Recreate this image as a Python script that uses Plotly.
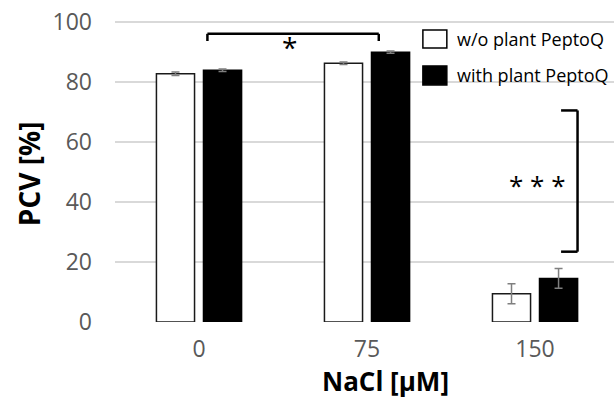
import plotly.graph_objects as go

categories = ["0", "75", "150"]
x_pos = [0, 1, 2]
without_vals = [82.6, 86.1, 9.4]
without_err = [0.6, 0.4, 3.3]
with_vals = [83.8, 89.8, 14.5]
with_err = [0.4, 0.4, 3.3]
y_ticks = [0, 20, 40, 60, 80, 100]

FONT = "Open Sans"

fig = go.Figure()
fig.add_trace(go.Bar(
    x=x_pos, y=without_vals, name="w/o plant PeptoQ",
    marker=dict(color="white", line=dict(color="#1a1a1a", width=1.5)),
    error_y=dict(type="data", array=without_err, color="#7f7f7f", thickness=1.5, width=4),
))
fig.add_trace(go.Bar(
    x=x_pos, y=with_vals, name="with plant PeptoQ",
    marker=dict(color="black", line=dict(color="black", width=1.5)),
    error_y=dict(type="data", array=with_err, color="#7f7f7f", thickness=1.5, width=4),
))

line = dict(color="black", width=2.5)
shapes = [
    # top bracket
    dict(type="line", xref="x", yref="y", x0=0.05, x1=1.07, y0=95.9, y1=95.9, line=line),
    dict(type="line", xref="x", yref="y", x0=0.05, x1=0.05, y0=95.9, y1=93.5, line=line),
    dict(type="line", xref="x", yref="y", x0=1.07, x1=1.07, y0=95.9, y1=93.5, line=line),
    # right bracket
    dict(type="line", xref="x", yref="y", x0=2.253, x1=2.253, y0=70.4, y1=23.4, line=line),
    dict(type="line", xref="x", yref="y", x0=2.155, x1=2.253, y0=70.4, y1=70.4, line=line),
    dict(type="line", xref="x", yref="y", x0=2.155, x1=2.253, y0=23.4, y1=23.4, line=line),
    # custom legend squares
    dict(type="rect", xref="paper", yref="paper", x0=0.617, x1=0.665, y0=0.907, y1=0.967,
         fillcolor="white", line=dict(color="black", width=1.5)),
    dict(type="rect", xref="paper", yref="paper", x0=0.617, x1=0.665, y0=0.785, y1=0.848,
         fillcolor="black", line=dict(color="black", width=1.5)),
]

annotations = [
    dict(text="*", xref="x", yref="y", x=0.54, y=91.5, showarrow=False,
         font=dict(family=FONT, size=28, color="black")),
    dict(text="* * *", xref="x", yref="y", x=2.01, y=45.5, showarrow=False,
         font=dict(family=FONT, size=26, color="black")),
    dict(text="w/o plant PeptoQ", xref="paper", yref="paper", x=0.681, y=0.937,
         xanchor="left", yanchor="middle", showarrow=False,
         font=dict(family=FONT, size=18, color="black")),
    dict(text="with plant PeptoQ", xref="paper", yref="paper", x=0.681, y=0.818,
         xanchor="left", yanchor="middle", showarrow=False,
         font=dict(family=FONT, size=18, color="black")),
    dict(text="<b>PCV [%]</b>", xref="paper", yref="paper", x=-0.172, y=0.49,
         textangle=-90, showarrow=False, xanchor="center", yanchor="middle",
         font=dict(family=FONT, size=28, color="black")),
    dict(text="<b>NaCl [µM]</b>", xref="paper", yref="paper", x=0.543, y=-0.258,
         showarrow=False, xanchor="center", yanchor="bottom", borderpad=0,
         font=dict(family=FONT, size=26, color="black")),
]

fig.update_layout(
    width=614, height=399,
    margin=dict(l=115, r=0, t=20, b=77, autoexpand=False),
    plot_bgcolor="white", paper_bgcolor="white",
    barmode="group", bargap=0.44, bargroupgap=0.19,
    showlegend=False,
    shapes=shapes, annotations=annotations,
    font=dict(family=FONT),
    xaxis=dict(range=[-0.5, 2.47], tickmode="array", tickvals=x_pos, ticktext=categories,
               showgrid=False, zeroline=False, showline=False, ticks="", automargin=False,
               tickfont=dict(family=FONT, size=23, color="#595959"), ticklabelstandoff=11,
               ticklabeloverflow="allow"),
    yaxis=dict(range=[0, 100.5], tickmode="array", tickvals=y_ticks, automargin=False,
               showgrid=True, gridcolor="#d9d9d9", gridwidth=1.5, zeroline=False,
               showline=False, ticks="", ticklabeloverflow="allow",
               tickfont=dict(family=FONT, size=23, color="#595959"), ticklabelstandoff=22),
)

fig.write_html("out.html", config={"displayModeBar": False},
               post_script="document.body.style.margin='0px';document.body.style.overflow='hidden';")
